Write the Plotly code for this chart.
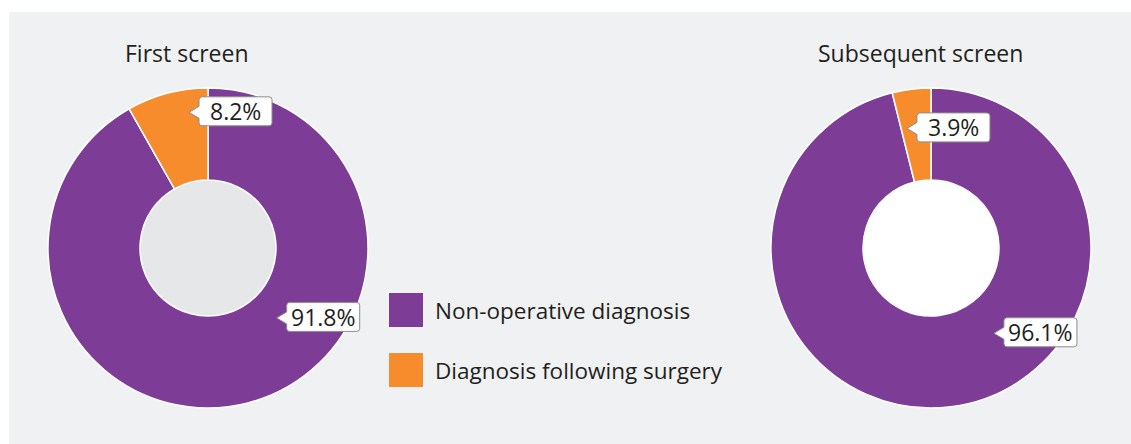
import math
import plotly.graph_objects as go

# ---- data ----
categories = ["Non-operative diagnosis", "Diagnosis following surgery"]
first_screen = [91.8, 8.2]
subsequent_screen = [96.1, 3.9]
chart_titles = ["First screen", "Subsequent screen"]
colors = ["#7d3c96", "#f68c2c"]

W, H = 1131, 444
FONT = "Open Sans"
TXT = "#231f20"

def px(x):
    return x / W

def py(y):
    return 1 - y / H

# donut geometry (pixels)
donuts = [
    dict(values=first_screen, cx=208, cy=248, hole_color="#e6e7e8", title=chart_titles[0], tx=187),
    dict(values=subsequent_screen, cx=931, cy=248, hole_color="#ffffff", title=chart_titles[1], tx=920),
]
R = 160
HOLE = 0.425
# label placement: fraction along slice arc, radius in px
label_frac = [[0.41, 0.73], [0.415, 0.19]]
label_rad = [[98, 137], [106, 122]]

fig = go.Figure()
shapes = []
annotations = []

# panel background
shapes.append(dict(type="rect", xref="paper", yref="paper", x0=px(9), x1=px(1131), y0=py(12), y1=py(444),
                   fillcolor="#f0f1f3", line=dict(width=0), layer="below"))

for i, d in enumerate(donuts):
    fig.add_trace(go.Pie(
        labels=categories, values=d["values"], hole=HOLE, sort=False, direction="clockwise", rotation=0,
        marker=dict(colors=colors, line=dict(color="white", width=1.5)),
        textinfo="none", hoverinfo="label+percent", showlegend=False,
        domain=dict(x=[px(d["cx"] - R), px(d["cx"] + R)], y=[py(d["cy"] + R), py(d["cy"] - R)]),
    ))
    hr = R * HOLE
    shapes.append(dict(type="circle", xref="paper", yref="paper",
                       x0=px(d["cx"] - hr), x1=px(d["cx"] + hr), y0=py(d["cy"] + hr), y1=py(d["cy"] - hr),
                       fillcolor=d["hole_color"], line=dict(width=0), layer="below"))
    annotations.append(dict(text=d["title"], x=px(d["tx"]), y=py(53), xref="paper", yref="paper",
                            showarrow=False, font=dict(family=FONT, size=23, color=TXT),
                            xanchor="center", yanchor="middle"))
    # labels
    total = sum(d["values"])
    start = 0.0
    for j, v in enumerate(d["values"]):
        span = 360.0 * v / total
        ang = math.radians(start + label_frac[i][j] * span)
        start += span
        r = label_rad[i][j]
        tipx = d["cx"] + r * math.sin(ang)
        tipy = d["cy"] - r * math.cos(ang)
        bw, gap, c = 73, 10, 3
        top, bot = 15.5, -13.5  # y-up pixel offsets
        path = (f"M 0,0 L {gap},-6 L {gap},{bot + c} Q {gap},{bot} {gap + c},{bot} "
                f"L {gap + bw - c},{bot} Q {gap + bw},{bot} {gap + bw},{bot + c} "
                f"L {gap + bw},{top - c} Q {gap + bw},{top} {gap + bw - c},{top} "
                f"L {gap + c},{top} Q {gap},{top} {gap},{top - c} L {gap},6 Z")
        shapes.append(dict(type="path", xref="paper", yref="paper", xsizemode="pixel", ysizemode="pixel",
                           xanchor=px(tipx), yanchor=py(tipy), path=path,
                           fillcolor="white", line=dict(color="#8c8c8c", width=1), layer="above"))
        annotations.append(dict(text=f"{v}%", x=px(tipx + gap + bw / 2), y=py(tipy - (top + bot) / 2),
                                xref="paper", yref="paper", showarrow=False,
                                font=dict(family=FONT, size=23, color=TXT), xanchor="center", yanchor="middle"))

# custom legend
leg_y = [310, 370]
for k, name in enumerate(categories):
    shapes.append(dict(type="rect", xref="paper", yref="paper",
                       x0=px(389), x1=px(423), y0=py(leg_y[k] + 17), y1=py(leg_y[k] - 17),
                       fillcolor=colors[k], line=dict(width=0), layer="above"))
    annotations.append(dict(text=name, x=px(433), y=py(leg_y[k]), xref="paper", yref="paper",
                            showarrow=False, font=dict(family=FONT, size=22.5, color=TXT),
                            xanchor="left", yanchor="middle"))

fig.update_layout(width=W, height=H, margin=dict(l=0, r=0, t=0, b=0),
                  paper_bgcolor="white", plot_bgcolor="white",
                  shapes=shapes, annotations=annotations)
fig.write_html("out.html", config={"displayModeBar": False},
               post_script="document.body.style.margin='0';document.body.style.overflow='hidden';")
